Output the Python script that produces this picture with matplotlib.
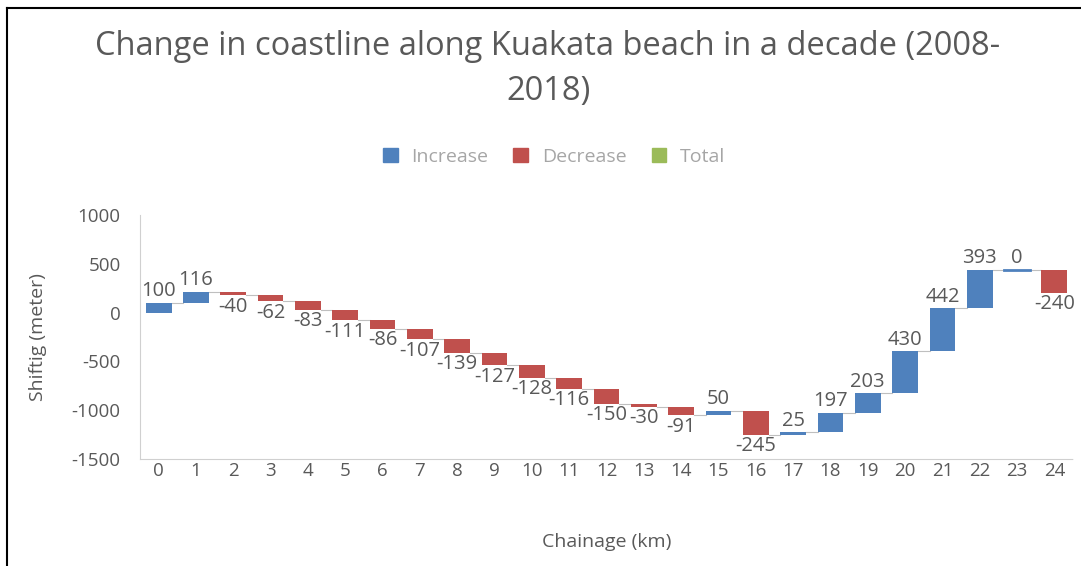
import matplotlib.pyplot as plt
import numpy as np
from matplotlib.patches import Patch

# data
chainage = list(range(25))
shift = [100, 116, -40, -62, -83, -111, -86, -107, -139, -127, -128, -116,
         -150, -30, -91, 50, -245, 25, 197, 203, 430, 442, 393, 0, -240]

BLUE = '#4F81BD'
RED = '#C0504D'
GREEN = '#9BBB59'
GREY = '#595959'

plt.rcParams['font.family'] = ['Open Sans', 'DejaVu Sans']
plt.rcParams['axes.unicode_minus'] = False

fig = plt.figure(figsize=(10.81, 5.66), dpi=100)
ax = fig.add_axes([140/1081, 107/566, 933/1081, 244/566])

vals = np.array(shift)
ends = np.cumsum(vals)
starts = ends - vals
cols = [BLUE if v >= 0 else RED for v in vals]
w = 0.69

ax.bar(chainage, vals, bottom=starts, width=w, color=cols, zorder=3)
# zero change -> draw a thin bar so it still shows
for i, v in enumerate(vals):
    if v == 0:
        ax.plot([i - w/2, i + w/2], [starts[i], starts[i]], color=BLUE, lw=2, zorder=3)

# connectors
for i in range(len(vals) - 1):
    ax.plot([i + w/2, i + 1 - w/2], [ends[i], ends[i]], color='#BFBFBF', lw=0.8, zorder=2)

# labels
for i, v in enumerate(vals):
    top = max(starts[i], ends[i])
    bot = min(starts[i], ends[i])
    if v >= 0:
        ax.annotate(str(v), (i, top), xytext=(0, 1), textcoords='offset points',
                    ha='center', va='bottom', fontsize=14.5, color=GREY)
    else:
        ax.annotate(str(v), (i, bot), xytext=(0, -1), textcoords='offset points',
                    ha='center', va='top', fontsize=14.5, color=GREY)

ax.set_xlim(-0.5, 24.5)
ax.set_ylim(-1500, 1000)
ax.set_yticks([-1500, -1000, -500, 0, 500, 1000])
ax.set_xticks(chainage)
ax.tick_params(length=0, labelsize=13.5, colors=GREY)
ax.tick_params(axis='x', pad=2)
ax.tick_params(axis='y', pad=14)
for s in ['top', 'right']:
    ax.spines[s].set_visible(False)
for s in ['left', 'bottom']:
    ax.spines[s].set_color('#D0D0D0')
    ax.spines[s].set_linestyle((0, (2, 1)))
    ax.spines[s].set_linewidth(0.8)

ax.set_xlabel('Chainage (km)', fontsize=14, color=GREY, labelpad=38)
ax.set_ylabel('Shiftig (meter)', fontsize=14, color=GREY, labelpad=18)

fig.text(548/1081, 1 - 69/566, 'Change in coastline along Kuakata beach in a decade (2008-\n2018)',
         ha='center', va='center', fontsize=23.5, color=GREY, linespacing=1.5)

# legend
handles = [Patch(color=BLUE), Patch(color=RED), Patch(color=GREEN)]
fig.legend(handles, ['Increase', 'Decrease', 'Total'], loc='center',
           bbox_to_anchor=(554/1081, 1 - 157/566), ncol=3, frameon=False,
           handlelength=0.75, handleheight=0.75, columnspacing=1.3, handletextpad=0.7,
           fontsize=14, labelcolor='#A6A6A6')

# border on left and top
fig.add_artist(plt.Line2D([7/1081, 7/1081], [0, 1 - 8/566], transform=fig.transFigure, color='black', lw=1.5))
fig.add_artist(plt.Line2D([7/1081, 1], [1 - 8/566, 1 - 8/566], transform=fig.transFigure, color='black', lw=1.5))

fig.savefig('out.png', dpi=100)
